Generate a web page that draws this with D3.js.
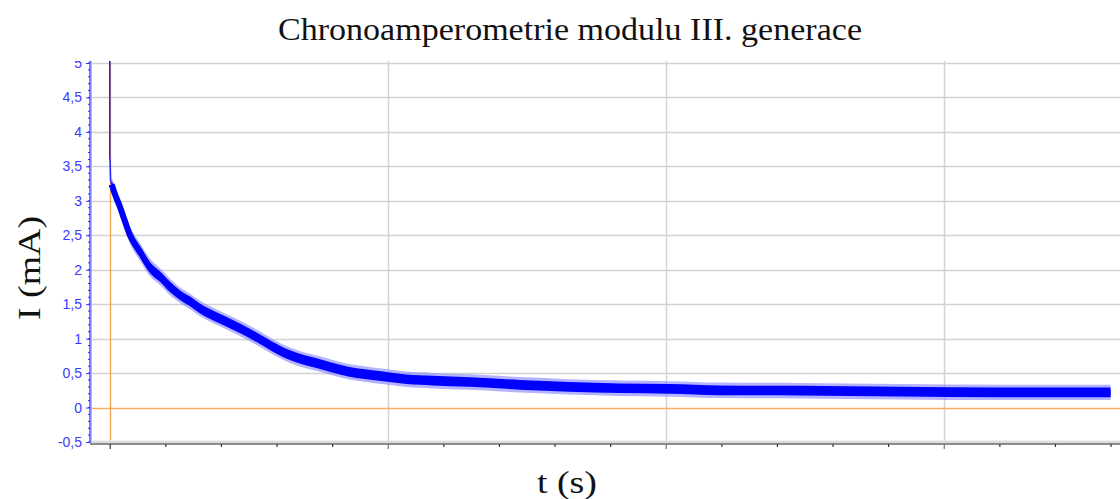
<!DOCTYPE html>
<html>
<head>
<meta charset="utf-8">
<script src="https://cdn.jsdelivr.net/npm/d3@7"></script>
<style>
  body { margin: 0; background: #fff; }
  svg { display: block; }
</style>
</head>
<body>
<div id="chart"></div>
<script>
// time in seconds, current in mA
var times   = [7, 20, 37, 55, 73, 109, 145, 181, 217, 253, 289, 324, 396, 468, 528, 587, 648, 708, 766, 828, 888, 946, 1007, 1067, 1162, 1295, 1475, 1654, 1834, 2014, 2193, 2481, 2840, 3199, 3600];
var current = [3.24, 3.08, 2.91, 2.70, 2.50, 2.26, 2.03, 1.90, 1.75, 1.63, 1.54, 1.44, 1.29, 1.15, 1.02, 0.88, 0.76, 0.68, 0.62, 0.55, 0.50, 0.47, 0.44, 0.41, 0.39, 0.37, 0.33, 0.30, 0.28, 0.27, 0.25, 0.245, 0.23, 0.22, 0.22];
// half width of the noise band, mA
var noiseHalf = [0.06, 0.07, 0.08, 0.08, 0.08, 0.08, 0.08, 0.075, 0.075, 0.07, 0.07, 0.07, 0.07, 0.07, 0.07, 0.07, 0.07, 0.07, 0.07, 0.07, 0.07, 0.07, 0.07, 0.07, 0.07, 0.07, 0.07, 0.07, 0.07, 0.07, 0.07, 0.07, 0.07, 0.07, 0.07];

// start-up spike at t = 0
var spikeTimes = [0, 0, 1, 3, 7];
var spikeValues = [5.4, 3.65, 3.6, 3.3, 3.24];

var yTicks = [-0.5, 0, 0.5, 1, 1.5, 2, 2.5, 3, 3.5, 4, 4.5, 5];
var xMajor = [0, 1000, 2000, 3000];

var title = "Chronoamperometrie modulu III. generace";
var xTitle = "t (s)";
var yTitle = "I (mA)";

var W = 1120, H = 499;
var svg = d3.select("#chart").append("svg")
    .attr("width", W)
    .attr("height", H);

var x = d3.scaleLinear().domain([-71, 3634]).range([90, 1120]);
var y = d3.scaleLinear().domain([-0.5, 5]).range([442, 63]);

svg.append("clipPath").attr("id", "clipAll")
  .append("rect").attr("x", 0).attr("y", 61).attr("width", W).attr("height", 400);
svg.append("clipPath").attr("id", "clipPlot")
  .append("rect").attr("x", 90).attr("y", 61).attr("width", W - 90).attr("height", 381);

var chart = svg.append("g").attr("clip-path", "url(#clipAll)");

// horizontal grid
chart.selectAll(".hgrid")
    .data(yTicks.filter(function(d) { return d !== 0; }))
    .enter().append("line")
    .attr("x1", 90).attr("x2", W)
    .attr("y1", function(d) { return Math.round(y(d)) + 0.5; })
    .attr("y2", function(d) { return Math.round(y(d)) + 0.5; })
    .attr("stroke", "#d2d2d2")
    .attr("stroke-width", 1.5);

// vertical grid
chart.selectAll(".vgrid")
    .data(xMajor.filter(function(d) { return d !== 0; }))
    .enter().append("line")
    .attr("x1", function(d) { return Math.round(x(d)) + 0.5; })
    .attr("x2", function(d) { return Math.round(x(d)) + 0.5; })
    .attr("y1", 61).attr("y2", 443)
    .attr("stroke", "#d2d2d2")
    .attr("stroke-width", 1.5);

// zero lines
chart.append("line")
    .attr("x1", 90).attr("x2", W)
    .attr("y1", Math.round(y(0)) + 0.5).attr("y2", Math.round(y(0)) + 0.5)
    .attr("stroke", "#f8ad62").attr("stroke-width", 1.3);
chart.append("line")
    .attr("x1", Math.round(x(0)) + 0.5).attr("x2", Math.round(x(0)) + 0.5)
    .attr("y1", 61).attr("y2", 443)
    .attr("stroke", "#f5a04c").attr("stroke-width", 1.3);

// bottom axis
chart.append("line")
    .attr("x1", 90).attr("x2", W).attr("y1", 441.5).attr("y2", 441.5)
    .attr("stroke", "#e0e0e0").attr("stroke-width", 2);
svg.append("line")
    .attr("x1", 90).attr("x2", W).attr("y1", 444).attr("y2", 444)
    .attr("stroke", "#8c8c8c").attr("stroke-width", 2);

var xAxis = d3.axisBottom(x)
    .tickValues(d3.range(0, 3601, 200))
    .tickSize(3)
    .tickFormat("");
var gx = svg.append("g")
    .attr("transform", "translate(0,444)")
    .call(xAxis);
gx.select(".domain").remove();
gx.selectAll(".tick line")
    .attr("stroke", function(d) { return d % 1000 === 0 && d > 0 ? "#777" : "#333"; })
    .attr("y2", function(d) { return d % 1000 === 0 ? 5 : 3; })
    .attr("stroke-width", 1.2);

// data band (noisy trace)
var plot = chart.append("g").attr("clip-path", "url(#clipPlot)");
var rows = times.map(function(t, i) { return {t: t, v: current[i], h: noiseHalf[i]}; });

var fringe = d3.area()
    .x(function(d) { return x(d.t); })
    .y0(function(d) { return y(d.v - d.h * 1.6); })
    .y1(function(d) { return y(d.v + d.h * 1.6); })
    .curve(d3.curveMonotoneX);
var core = d3.area()
    .x(function(d) { return x(d.t); })
    .y0(function(d) { return y(d.v - d.h); })
    .y1(function(d) { return y(d.v + d.h); })
    .curve(d3.curveMonotoneX);

plot.append("path").datum(rows)
    .attr("d", fringe)
    .attr("fill", "#8080ff")
    .attr("opacity", 0.6);
plot.append("path").datum(rows)
    .attr("d", core)
    .attr("fill", "#0000ff");
// centre line keeps the steep start thick
plot.append("path").datum(rows)
    .attr("d", d3.line().x(function(d) { return x(d.t); }).y(function(d) { return y(d.v); }).curve(d3.curveMonotoneX))
    .attr("fill", "none")
    .attr("stroke", "#0000ff")
    .attr("stroke-width", 6);

var spike = spikeTimes.map(function(t, i) { return [t, spikeValues[i]]; });
plot.append("path").datum(spike)
    .attr("d", d3.line().x(function(d) { return x(d[0]); }).y(function(d) { return y(d[1]); }))
    .attr("fill", "none")
    .attr("stroke", "#2020ff")
    .attr("stroke-width", 1.5);

// left axis
var yMinor = d3.range(-5, 51).map(function(d) { return d / 10; });
chart.append("line")
    .attr("x1", 90.5).attr("x2", 90.5).attr("y1", 61).attr("y2", 443)
    .attr("stroke", "#b8b8ff").attr("stroke-width", 3);
chart.append("line")
    .attr("x1", 90).attr("x2", 90).attr("y1", 61).attr("y2", 443)
    .attr("stroke", "#4040ff").attr("stroke-width", 1);
chart.selectAll(".yminor")
    .data(yMinor)
    .enter().append("line")
    .attr("x1", 88).attr("x2", 90)
    .attr("y1", function(d) { return y(d); })
    .attr("y2", function(d) { return y(d); })
    .attr("stroke", "#3030ff").attr("stroke-width", 1);

var yAxis = d3.axisLeft(y)
    .tickValues(yTicks)
    .tickSize(4)
    .tickPadding(4)
    .tickFormat(function(d) { return String(d).replace(".", ","); });
var gy = chart.append("g")
    .attr("transform", "translate(90,0)")
    .call(yAxis);
gy.select(".domain").remove();
gy.selectAll(".tick line").attr("stroke", "#3030ff");
gy.selectAll(".tick text")
    .attr("fill", "#3a3aff")
    .style("font-family", "'Liberation Sans', Arial, sans-serif")
    .style("font-size", "14px");

// titles
svg.append("text")
    .attr("x", 570).attr("y", 40)
    .attr("text-anchor", "middle")
    .attr("textLength", 584)
    .attr("lengthAdjust", "spacingAndGlyphs")
    .style("font-family", "'Liberation Serif', 'DejaVu Serif', serif")
    .style("font-size", "31px")
    .attr("fill", "#111")
    .text(title);

svg.append("text")
    .attr("transform", "translate(40,268) rotate(-90)")
    .attr("text-anchor", "middle")
    .attr("textLength", 104)
    .attr("lengthAdjust", "spacingAndGlyphs")
    .style("font-family", "'Liberation Serif', serif")
    .style("font-size", "31px")
    .attr("fill", "#111")
    .text(yTitle);

svg.append("text")
    .attr("x", 567).attr("y", 493)
    .attr("text-anchor", "middle")
    .attr("textLength", 60)
    .attr("lengthAdjust", "spacingAndGlyphs")
    .style("font-family", "'Liberation Serif', serif")
    .style("font-size", "31px")
    .attr("fill", "#111")
    .text(xTitle);
</script>
</body>
</html>
